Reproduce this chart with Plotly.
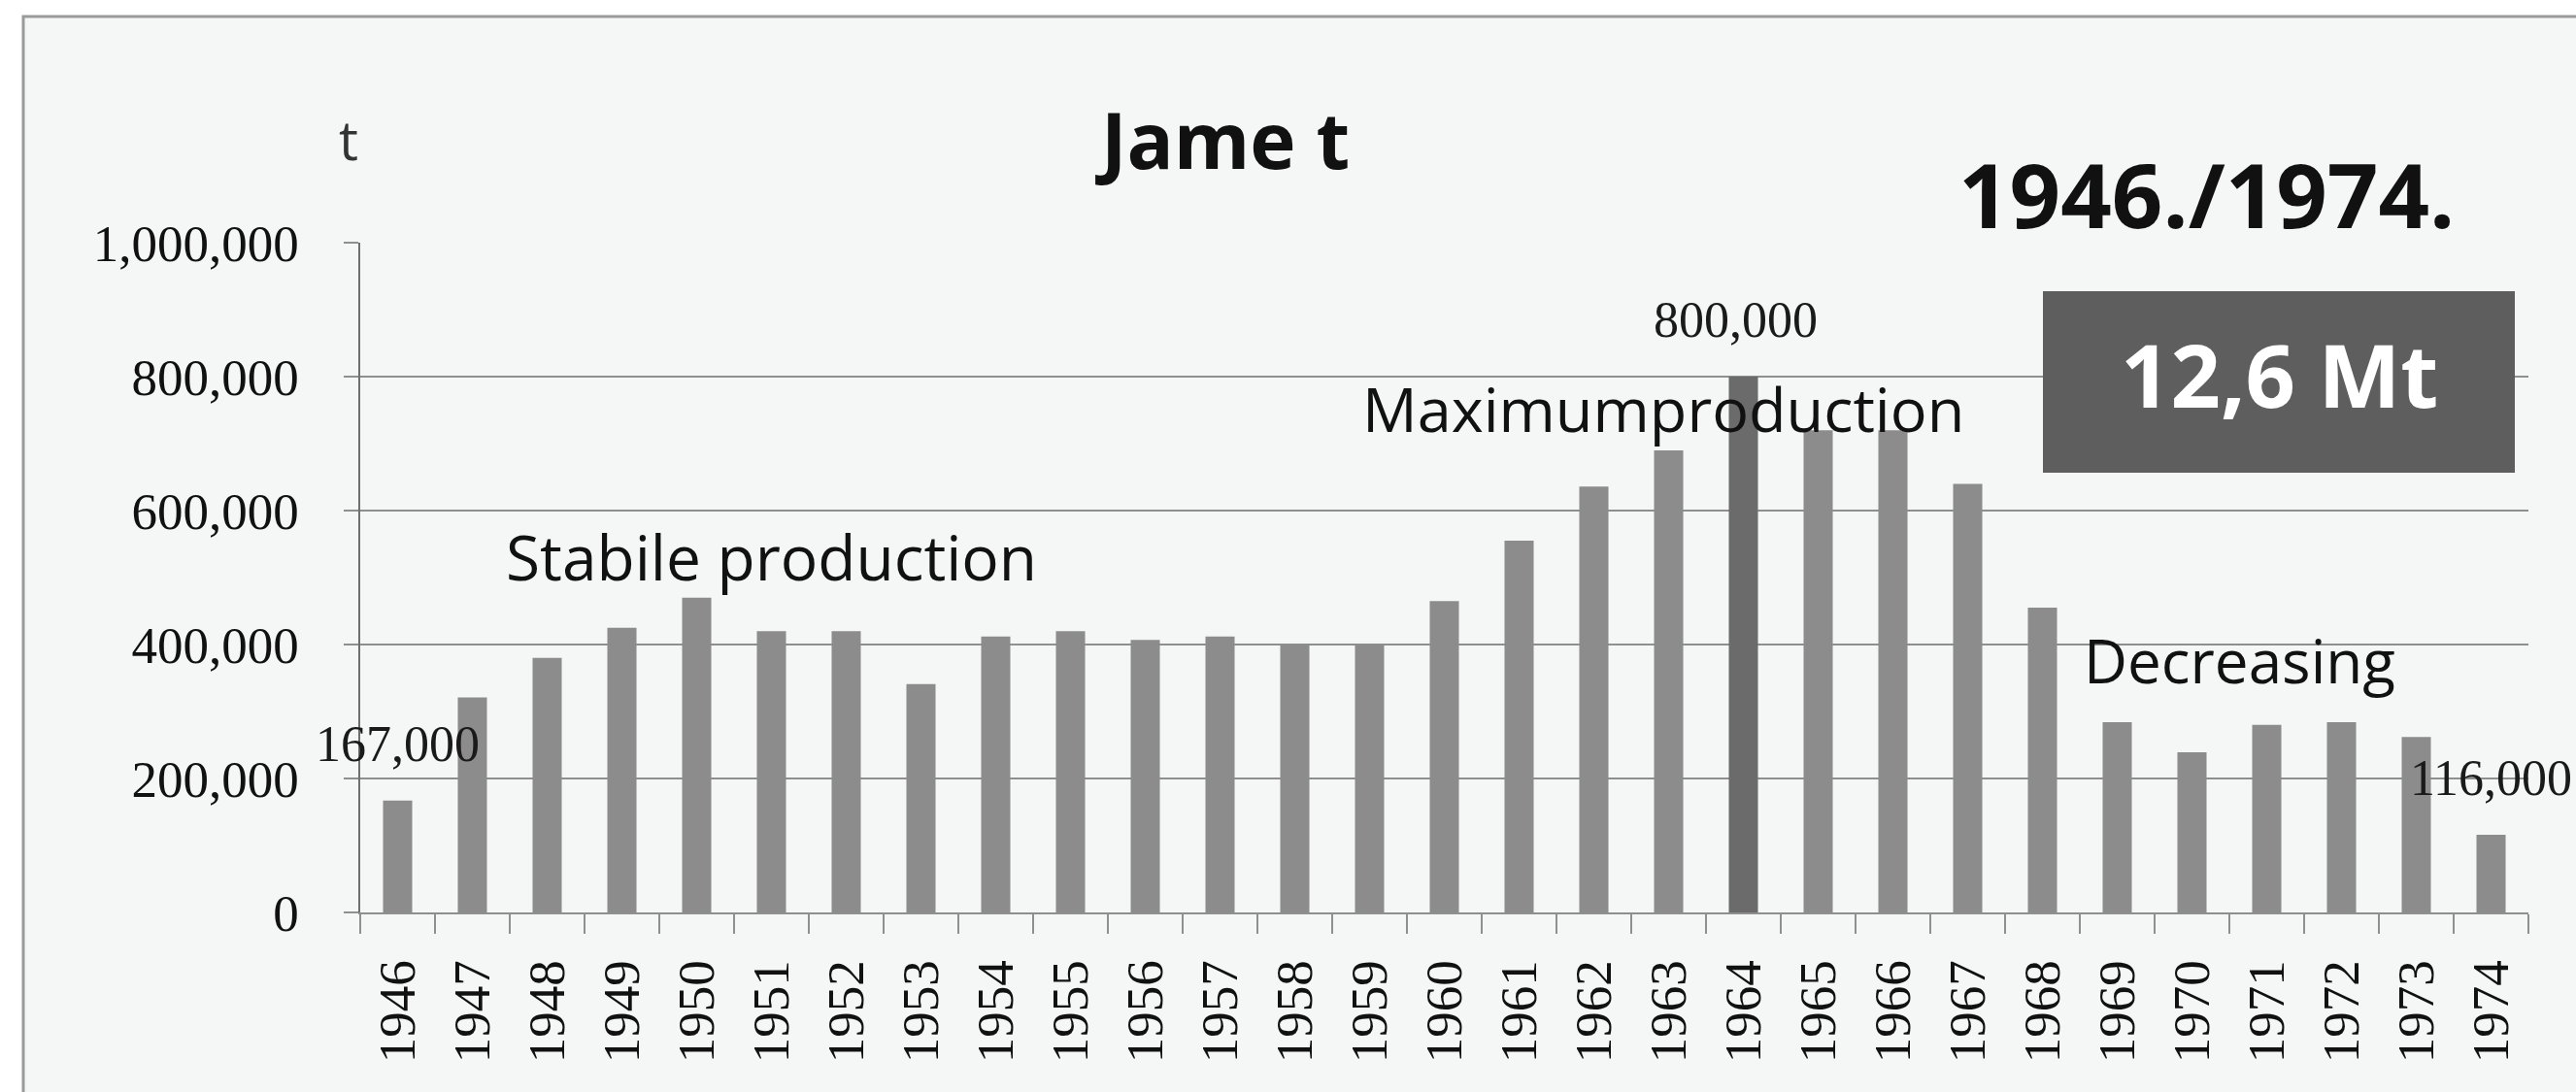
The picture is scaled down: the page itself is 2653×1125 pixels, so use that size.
import plotly.graph_objects as go

# ---- data ----
years = [str(y) for y in range(1946, 1975)]
production_t = [167000, 321000, 380000, 425000, 470000, 420000, 420000, 341000, 412000,
                420000, 407000, 412000, 400000, 400000, 465000, 555000, 636000, 690000,
                800000, 720000, 720000, 640000, 455000, 284000, 239000, 280000, 284000,
                262000, 116000]
y_ticks = [0, 200000, 400000, 600000, 800000, 1000000]
labelled_years = ["1946", "1964", "1974"]
labelled_text = ["167,000", "800,000", "116,000"]
title_text = "Jame t"
unit_text = "t"
period_text = "1946./1974."
total_text = "12,6 Mt"
phase_texts = ["Stabile production", "Maximumproduction", "Decreasing"]

W, H = 2653, 1125
L, R, T, B = 371, 49, 250, 185
PW, PH = W - L - R, H - T - B


def px(x):
    return (x - L) / PW


def py(y):
    return (H - B - y) / PH


max_val = max(production_t)
bar_colors = ["#6b6b6b" if v == max_val else "#8c8c8c" for v in production_t]

fig = go.Figure(go.Bar(
    x=years, y=production_t, marker=dict(color=bar_colors, line=dict(width=0)),
    hoverinfo="x+y",
))

sans = "Open Sans"
serif = "Liberation Serif"

annotations = [
    dict(text=unit_text, x=px(359), y=py(143), font=dict(family=sans, size=56, color="#333")),
    dict(text="<b>" + title_text + "</b>", x=px(1259), y=py(143), font=dict(family=sans, size=80, color="#111")),
    dict(text="<b>" + period_text + "</b>", x=px(2272), y=py(200), font=dict(family=sans, size=92, color="#111")),
    dict(text="<b>" + total_text + "</b>", x=px(2347), y=py(385), font=dict(family=sans, size=90, color="#ffffff")),
    dict(text=phase_texts[0], x=px(794), y=py(573), font=dict(family=sans, size=64, color="#111")),
    dict(text=phase_texts[1], x=px(1713), y=py(420), font=dict(family=sans, size=63, color="#111")),
    dict(text=phase_texts[2], x=px(2306), y=py(680), font=dict(family=sans, size=62, color="#111")),
]
for a in annotations:
    a.update(xref="paper", yref="paper", xanchor="center", yanchor="middle", showarrow=False)

for yr, txt in zip(labelled_years, labelled_text):
    i = years.index(yr)
    annotations.append(dict(
        x=i, y=production_t[i], xref="x", yref="y", text=txt,
        showarrow=False, xanchor="center", yanchor="bottom", yshift=28,
        xshift=-8 if production_t[i] == max_val else 0,
        font=dict(family=serif, size=52, color="#1a1a1a"),
    ))

shapes = [
    # chart frame / background
    dict(type="rect", xref="paper", yref="paper", x0=px(24), x1=px(W + 20), y0=py(H + 20), y1=py(17),
         line=dict(color="#9a9a9a", width=3), fillcolor="#f5f6f6", layer="below"),
    # total box
    dict(type="rect", xref="paper", yref="paper", x0=px(2104), x1=px(2590), y0=py(487), y1=py(300),
         line=dict(width=0), fillcolor="#5e5e5e", layer="above"),
]

fig.update_layout(
    width=W, height=H,
    margin=dict(l=L, r=R, t=T, b=B, autoexpand=False),
    paper_bgcolor="#ffffff",
    plot_bgcolor="rgba(0,0,0,0)",
    showlegend=False,
    bargap=0.61,
    annotations=annotations,
    shapes=shapes,
    xaxis=dict(
        type="category", range=[-0.5, len(years) - 0.5], autorange=False,
        tickangle=-90, tickson="boundaries", ticks="outside", ticklen=20,
        tickwidth=2, tickcolor="#8f8f8f", showline=True, linecolor="#8f8f8f", linewidth=2,
        showgrid=False, ticklabelstandoff=26,
        tickfont=dict(family=serif, size=53, color="#111"),
    ),
    yaxis=dict(
        range=[0, 1000000], autorange=False, tickvals=y_ticks, tickformat=",", ticks="outside", ticklen=15,
        tickwidth=2, tickcolor="#8f8f8f", showgrid=True, gridcolor="#8f8f8f", gridwidth=2,
        showline=True, linecolor="#6f6f6f", linewidth=1.5, zeroline=False,
        ticklabelstandoff=36, tickfont=dict(family=serif, size=53, color="#111"),
    ),
)

fig.write_html(
    "out.html",
    config={"displayModeBar": False},
    post_script="document.body.style.margin='0';document.body.style.overflow='hidden';",
)
